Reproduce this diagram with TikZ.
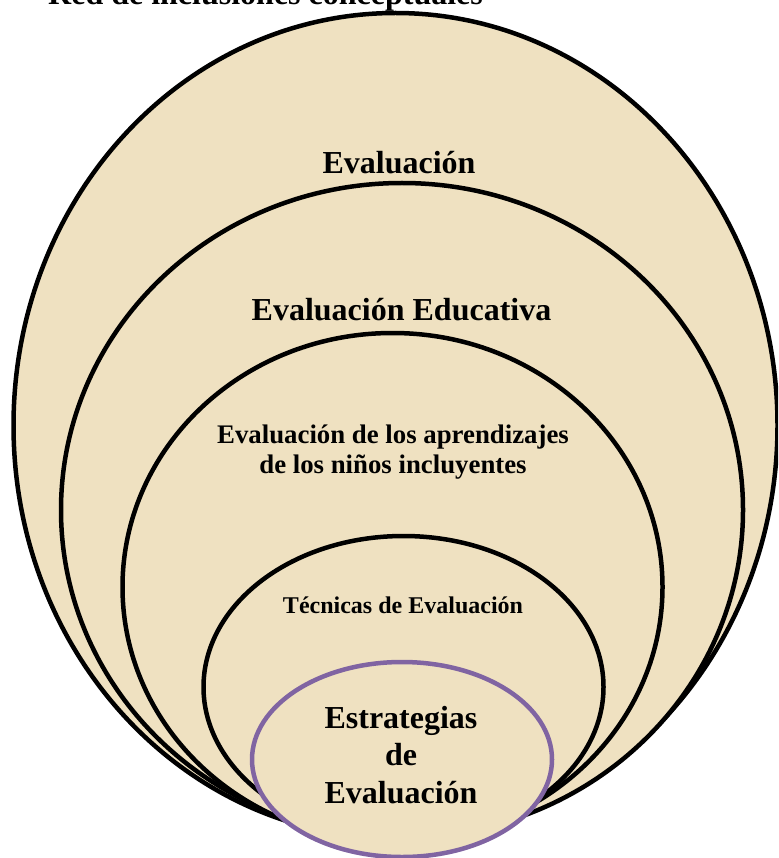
\documentclass[tikz,border=0pt]{standalone}
\usepackage{fontspec}
\setmainfont{Liberation Serif}
\usetikzlibrary{shapes.geometric, positioning}
\definecolor{parchment}{RGB}{239,225,193}
\definecolor{lilac}{RGB}{128,100,162}
\tikzset{
  ring/.style={ellipse, draw=black, line width=4.5pt, fill=parchment,
               inner sep=0pt},
  ringtext/.style={align=center, inner sep=0pt, anchor=base},
  bigfont/.style={font=\fontsize{32}{37.5}\selectfont\bfseries},
}

\begin{document}
\begin{tikzpicture}[x=1pt, y=-1pt]
        \clip (0,0) rectangle (778,858);
        % nested ellipses, outer to inner
        \node[ring, minimum width=764pt, minimum height=825pt] (eval) at (395.5,425.5) {};
        \node[ring, minimum width=682pt, minimum height=654pt] (educ) at (402,510) {};
        \node[ring, minimum width=540pt, minimum height=508pt] (apren) at (392.5,587) {};
        \node[ring, minimum width=400pt, minimum height=302pt] (tecn) at (403.5,687) {};
        \node[ring, draw=lilac, minimum width=300pt, minimum height=195pt] (estr) at (402,759.5) {};
        % texts (base = last line)
        \node[ringtext, bigfont] (evaltxt) at (399,174) {Evaluación};
        \node[ringtext, bigfont] (eductxt) at (401.5,320) {Evaluación Educativa};
        \node[ringtext, font=\fontsize{26.8}{30}\selectfont\bfseries] (aprentxt) at (393,473)
              {Evaluación de los aprendizajes\\de los niños incluyentes};
        \node[ringtext, font=\fontsize{24}{28}\selectfont\bfseries] (tecntxt) at (403,613) {Técnicas de Evaluación};
        \node[ringtext, bigfont] (estrtxt) at (401,803) {Estrategias\\de\\Evaluación};
        \node[bigfont, inner sep=0pt, anchor=base west] (title) at (48,5) {Red de inclusiones conceptuales};
      \end{tikzpicture}
\end{document}
